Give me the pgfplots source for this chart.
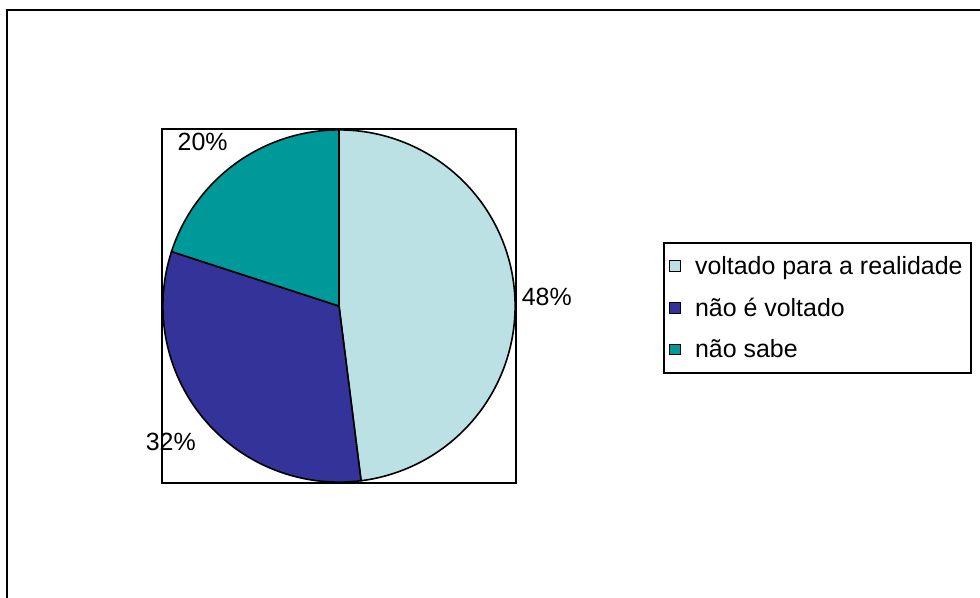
\documentclass[border=0pt]{standalone}
\usepackage{pgfplots}
\pgfplotsset{compat=1.18}
\usepackage{pgfplotstable}
\usepackage{fontspec}
\setmainfont{Liberation Sans}
\definecolor{cLight}{RGB}{188,225,228}
\definecolor{cNavy}{RGB}{51,51,153}
\definecolor{cTeal}{RGB}{0,153,153}
\pgfplotstableread{
value
48
32
20
}\piedata
\pgfplotstablegetelem{0}{value}\of\piedata \let\va\pgfplotsretval
\pgfplotstablegetelem{1}{value}\of\piedata \let\vb\pgfplotsretval
\pgfplotstablegetelem{2}{value}\of\piedata \let\vc\pgfplotsretval
\pgfmathsetmacro{\aA}{90}
\pgfmathsetmacro{\aB}{\aA-3.6*\va}
\pgfmathsetmacro{\aC}{\aB-3.6*\vb}
\pgfmathsetmacro{\aD}{\aC-3.6*\vc}
\begin{document}%
\begin{tikzpicture}[font=\fontsize{18.7}{22.4}\selectfont]
\begin{axis}[
  at={(121.5pt,85.5pt)}, anchor=south west,
  width=265.5pt, height=265.5pt, scale only axis,
  xmin=-1.005, xmax=1.005, ymin=-1.005, ymax=1.005,
  xtick=\empty, ytick=\empty,
  axis line style={line width=1.5pt},
  clip=false,
  legend style={at={(1.415,0.681)}, anchor=north west, draw=black, line width=1.5pt,
    font=\fontsize{18.7}{22.4}\selectfont, row sep=12pt, inner xsep=4pt, inner ysep=8pt},
  legend cell align=left,
  legend image code/.code={\draw[#1, draw=black, line width=0.75pt] (0pt,-4pt) rectangle (8pt,4pt);
     \path[draw=none, fill=none] (0pt,0pt) -- (17pt,0pt);},
]
\addplot[fill=cLight, draw=black, line width=1.2pt, domain=\aB:\aA, samples=120, smooth]
  ({cos(x)},{sin(x)}) -- (0,0) -- cycle;
\addlegendentry{voltado para a realidade}
\addplot[fill=cNavy, draw=black, line width=1.2pt, domain=\aC:\aB, samples=90, smooth]
  ({cos(x)},{sin(x)}) -- (0,0) -- cycle;
\addlegendentry{não é voltado}
\addplot[fill=cTeal, draw=black, line width=1.2pt, domain=\aD:\aC, samples=60, smooth]
  ({cos(x)},{sin(x)}) -- (0,0) -- cycle;
\addlegendentry{não sabe}
\node at (axis cs:1.18,0.05) {48\%};
\node at (axis cs:-0.955,-0.774) {32\%};
\node at (axis cs:-0.774,0.932) {20\%};
\end{axis}
\begin{scope}
\clip (0pt,0pt) rectangle (735pt,447.75pt);
\draw[line width=1.5pt] (5.25pt,-15pt) rectangle (750pt,440.25pt);
\end{scope}
\pgfresetboundingbox
\useasboundingbox (0pt,0pt) rectangle (735pt,447.75pt);
\end{tikzpicture}%
\end{document}
